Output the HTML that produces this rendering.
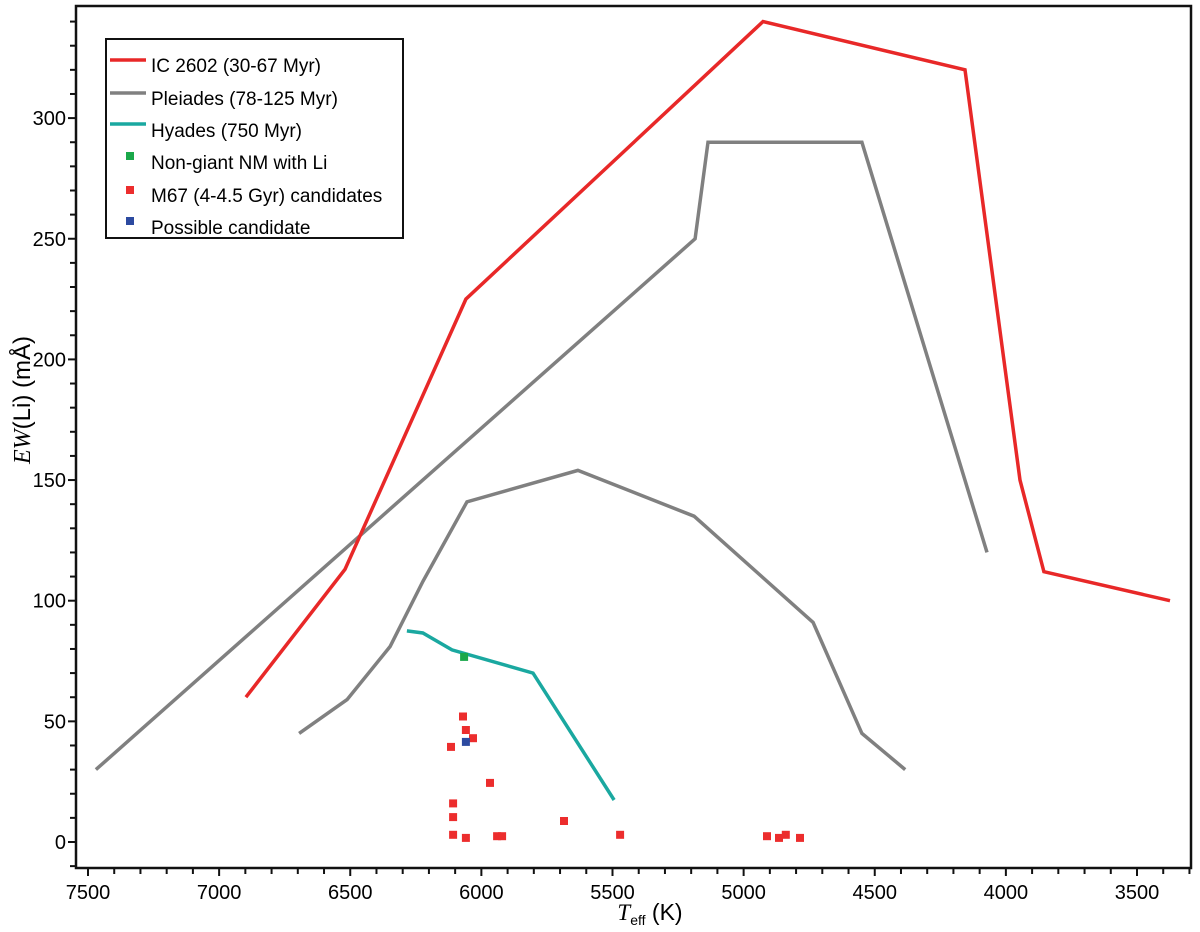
<!DOCTYPE html>
<html><head><meta charset="utf-8"><style>
html,body{margin:0;padding:0;background:#fff;}
svg{display:block;font-family:"Liberation Sans",sans-serif;}
</style></head><body>
<svg id="chart" width="1200" height="932" viewBox="0 0 1200 932" xmlns="http://www.w3.org/2000/svg">
<g id="grid"></g>
<g id="series"></g>
<g id="axes"></g>
<g id="legend">
 <rect x="106" y="39" width="297" height="199" fill="#fff" stroke="#111" stroke-width="2"/>
 <line x1="110" y1="60" x2="146" y2="60" stroke="#e82828" stroke-width="3.5"/>
 <text x="151" y="72" font-size="19">IC 2602 (30-67 Myr)</text>
 <line x1="110" y1="93" x2="146" y2="93" stroke="#808080" stroke-width="3.5"/>
 <text x="151" y="105" font-size="19">Pleiades (78-125 Myr)</text>
 <line x1="110" y1="124" x2="146" y2="124" stroke="#1aa8a0" stroke-width="3.5"/>
 <text x="151" y="137" font-size="19">Hyades (750 Myr)</text>
 <rect x="126" y="152" width="8" height="8" fill="#1aa84a"/>
 <text x="151" y="169" font-size="19">Non-giant NM with Li</text>
 <rect x="126" y="186" width="8" height="8" fill="#ec2d2d"/>
 <text x="151" y="202" font-size="19">M67 (4-4.5 Gyr) candidates</text>
 <rect x="126" y="217" width="8" height="8" fill="#2c4aa0"/>
 <text x="151" y="234" font-size="19">Possible candidate</text>
</g>
<text x="30" y="400" font-size="24" transform="rotate(-90 30 400)" text-anchor="middle"><tspan font-family="Liberation Serif" font-style="italic">EW</tspan>(Li) (mÅ)</text>
<text x="650" y="920" font-size="23" text-anchor="middle"><tspan font-family="Liberation Serif" font-style="italic">T</tspan><tspan font-size="14" dy="5">eff</tspan><tspan dy="-5"> (K)</tspan></text>
<script>
const ic2602T=[6898,6520,6059,4926,4156,3946,3855,3374];
const ic2602V=[60,113,225,340,320,150,112,100];
const pleiadesUpT=[7470,5185,5136,4549,4072];
const pleiadesUpV=[30,250,290,290,120];
const pleiadesLoT=[6695,6512,6348,6223,6055,5632,5189,4735,4549,4384];
const pleiadesLoV=[45,59,81,108,141,154,135,91,45,30];
const hyadesT=[6284,6223,6112,5803,5494];
const hyadesV=[87.5,86.6,79.6,70,17.4];
const greenT=[6066];
const greenV=[76.7];
const m67T=[6070,6059,6032,6116,5967,6108,6108,5685,6108,6059,5940,5921,5471,4911,4865,4839,4785];
const m67V=[52,46.4,43,39.4,24.5,16,10.3,8.7,3,1.7,2.4,2.4,3,2.4,1.7,3,1.7];
const blueT=[6059];
const blueV=[41.5];
const xTicks=[7500,7000,6500,6000,5500,5000,4500,4000,3500];
const yTicks=[0,50,100,150,200,250,300];

const NS="http://www.w3.org/2000/svg";
function X(t){return 88+(7500-t)*0.26225;}
function Y(v){return 842-v*2.413;}
const series=document.getElementById('series');
const axes=document.getElementById('axes');
function mk(tag,attrs,parent){const e=document.createElementNS(NS,tag);for(const k in attrs)e.setAttribute(k,attrs[k]);parent.appendChild(e);return e;}
function line(T,V,color,name){
  const pts=T.map((t,i)=>X(t).toFixed(1)+','+Y(V[i]).toFixed(1)).join(' ');
  const p=mk('polyline',{points:pts,fill:'none',stroke:color,'stroke-width':3.5,'stroke-linejoin':'miter'},series);
  
  
}
function squares(T,V,color,name){
  T.forEach((t,i)=>{
    const r=mk('rect',{x:(X(t)-4).toFixed(1),y:(Y(V[i])-4).toFixed(1),width:8,height:8,fill:color},series);
    
    
  });
}
line(pleiadesUpT,pleiadesUpV,'#808080','pleiades-upper-line');
line(pleiadesLoT,pleiadesLoV,'#808080','pleiades-lower-line');
line(ic2602T,ic2602V,'#e82828','ic2602-line');
line(hyadesT,hyadesV,'#1aa8a0','hyades-line');
squares(greenT,greenV,'#1aa84a','nongiant-point');
squares(m67T,m67V,'#ec2d2d','m67-point');
squares(blueT,blueV,'#2c4aa0','possible-candidate-point');

const fr=mk('rect',{x:76,y:6,width:1115,height:862,fill:'none',stroke:'#111','stroke-width':2.5},axes);


for(let t=7500;t>=3300;t-=100){
  const major=(t%500===0);
  mk('line',{x1:X(t),x2:X(t),y1:868,y2:major?876:874,stroke:'#111','stroke-width':2},axes);
}
xTicks.forEach(t=>{
  const tx=mk('text',{x:X(t),y:899,'font-size':20,'text-anchor':'middle'},axes);
  tx.textContent=t;
  
  
});
for(let v=-10;v<=340;v+=10){
  const major=(v%50===0);
  mk('line',{x1:major?68:70,x2:76,y1:Y(v),y2:Y(v),stroke:'#111','stroke-width':2},axes);
}
yTicks.forEach(v=>{
  const tx=mk('text',{x:66,y:Y(v)+7,'font-size':20,'text-anchor':'end'},axes);
  tx.textContent=v;
  
  
});
</script>
</svg>
</body></html>
